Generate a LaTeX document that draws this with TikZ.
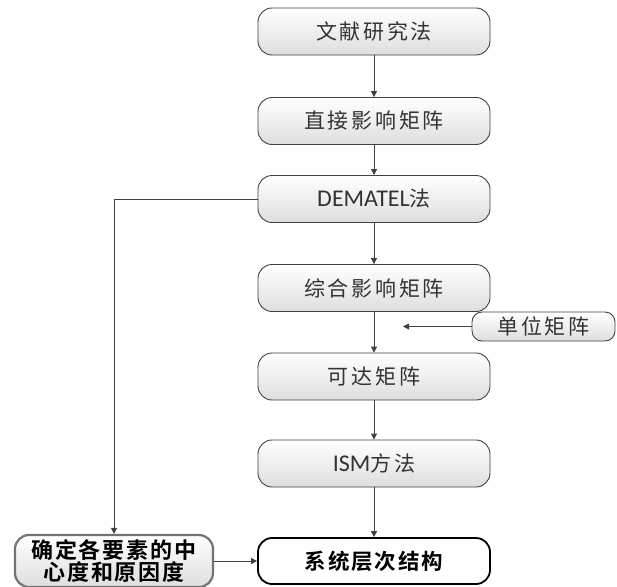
\documentclass[tikz,border=0pt]{standalone}
\usepackage{fontspec}
\newfontfamily\cjk[LetterSpace=13]{Noto Sans CJK SC}
\newfontfamily\cjkb[LetterSpace=9]{Noto Sans CJK SC Bold}
\newfontfamily\lat{Carlito}
\usetikzlibrary{arrows.meta}
\definecolor{edge}{HTML}{404040}
\definecolor{txt}{HTML}{333333}
\tikzset{
  box/.style={draw=edge, line width=0.9pt, rounded corners=14pt, top color=white, bottom color=black!13,
    minimum width=232pt, minimum height=47pt, inner sep=0pt, text=txt, font=\fontsize{21}{23}\selectfont\cjk},
  smallbox/.style={box, minimum width=143pt, minimum height=29pt, rounded corners=10pt},
  endbox/.style={draw=black, line width=1.8pt, rounded corners=14pt, fill=white,
    minimum width=232pt, minimum height=46pt, inner sep=0pt, text=black, font=\fontsize{21.5}{23}\selectfont\cjkb},
  leftbox/.style={draw=black!55, line width=2.2pt, rounded corners=14pt, top color=white, bottom color=black!13,
    minimum width=198pt, minimum height=52pt, inner sep=0pt, align=center, text=black, font=\fontsize{22}{22}\selectfont\cjkb},
  conn/.style={draw=edge, line width=0.9pt, -{Triangle[length=6pt,width=6pt]}}
}
\begin{document}
\begin{tikzpicture}[x=1pt,y=-1pt]
\useasboundingbox (0,0) rectangle (617,586);
\clip (0,0) rectangle (617,586);
\node[box] (b1) at (374,31.5) {文献研究法};
\node[box] (b2) at (374,121) {直接影响矩阵};
\node[box] (b3) at (374,199) {{\lat\fontsize{24}{26}\selectfont DEMATEL}法};
\node[box] (b4) at (374,288) {综合影响矩阵};
\node[box] (b5) at (374,376.5) {可达矩阵};
\node[box] (b6) at (374,463.5) {{\lat\fontsize{24}{26}\selectfont ISM}方法};
\node[endbox] (b7) at (374,561) {系统层次结构};
\node[smallbox] (u) at (543.5,326.5) {单位矩阵};
\node[leftbox] (d) at (114,561) {确定各要素的中\\心度和原因度};
\coordinate (uin) at (403,326.5);
\coordinate (corner) at (114,199);
\draw[conn] (b1) -- (b2);
\draw[conn] (b2) -- (b3);
\draw[conn] (b3) -- (b4);
\draw[conn] (b4) -- (b5);
\draw[conn] (b5) -- (b6);
\draw[conn] (b6) -- (b7);
\draw[conn] (u) -- (uin);
\draw[conn] (b3.west) -- (corner) -- (d.north);
\draw[conn] (d.east |- b7.west) -- (b7.west);
\end{tikzpicture}
\end{document}
